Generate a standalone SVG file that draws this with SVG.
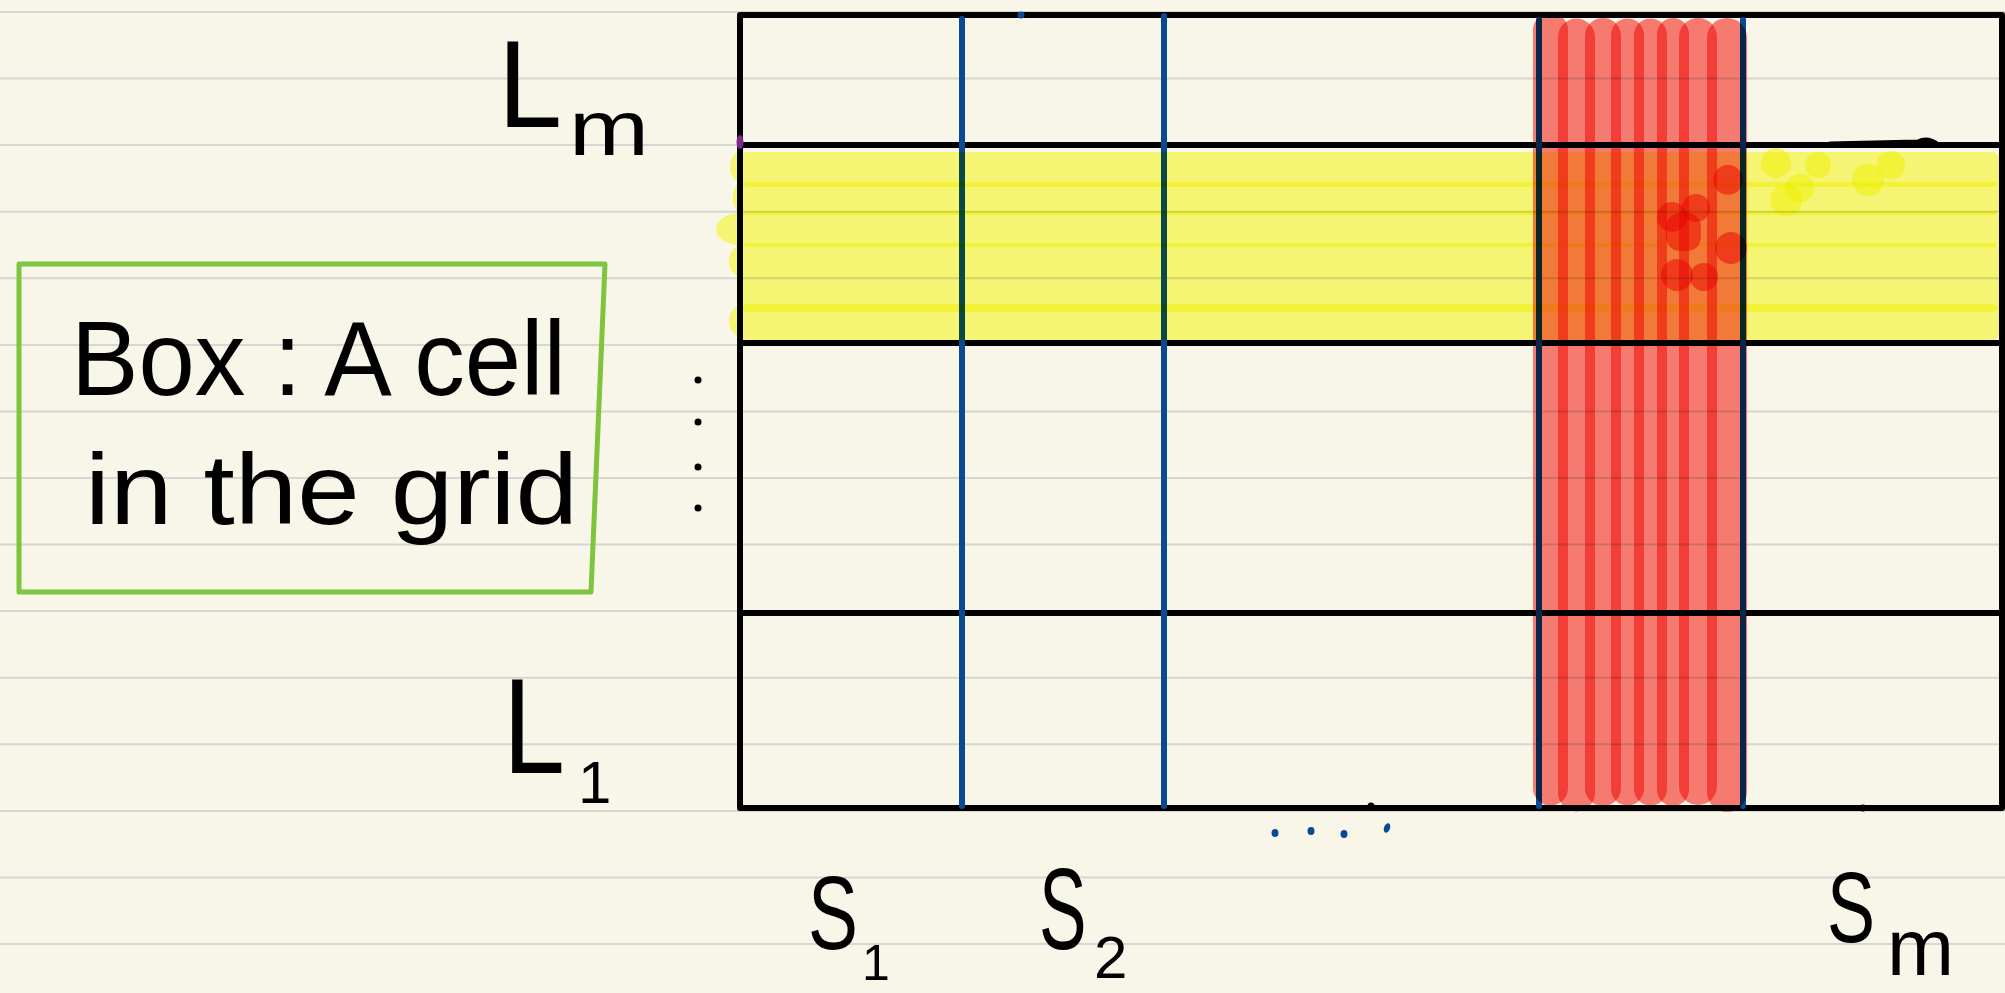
<svg xmlns="http://www.w3.org/2000/svg" width="2005" height="993" viewBox="0 0 2005 993">
<style>
.paper{stroke:#d6d6d2;stroke-width:2}
.blk{stroke:#000;stroke-width:6;fill:none;stroke-linecap:round}
.blu{stroke:#0b4993;stroke-width:6;fill:none;stroke-linecap:round}
.hr{stroke:#fc7f7c;fill:none;stroke-linecap:round;mix-blend-mode:multiply}
.hrf{fill:#fc7f7c;mix-blend-mode:multiply}
.hy{fill:#fcfd7e;mix-blend-mode:multiply}
.t{font-family:"Liberation Sans","DejaVu Sans",sans-serif;fill:#000}
</style>
<rect width="2005" height="993" fill="#f8f6e9"/>
<g id="paper-lines">
<line class="paper" x1="0" y1="12" x2="2005" y2="12"/>
<line class="paper" x1="0" y1="78.6" x2="2005" y2="78.6"/>
<line class="paper" x1="0" y1="145.1" x2="2005" y2="145.1"/>
<line class="paper" x1="0" y1="211.7" x2="2005" y2="211.7"/>
<line class="paper" x1="0" y1="278.3" x2="2005" y2="278.3"/>
<line class="paper" x1="0" y1="344.9" x2="2005" y2="344.9"/>
<line class="paper" x1="0" y1="411.4" x2="2005" y2="411.4"/>
<line class="paper" x1="0" y1="478" x2="2005" y2="478"/>
<line class="paper" x1="0" y1="544.6" x2="2005" y2="544.6"/>
<line class="paper" x1="0" y1="611.1" x2="2005" y2="611.1"/>
<line class="paper" x1="0" y1="677.7" x2="2005" y2="677.7"/>
<line class="paper" x1="0" y1="744.3" x2="2005" y2="744.3"/>
<line class="paper" x1="0" y1="810.9" x2="2005" y2="810.9"/>
<line class="paper" x1="0" y1="877.4" x2="2005" y2="877.4"/>
<line class="paper" x1="0" y1="944" x2="2005" y2="944"/>
</g>
<g id="grid">
<path class="blk" d="M740,15 H2002 M740,15 V808 M740,808 H2002 M2002,15 V808"/>
<path class="blk" d="M740,145 H2002 M740,343 H2002 M740,613 H2002"/>
<path d="M1830,144 L1918,142 Q1928,137 1938,145" stroke="#000" stroke-width="5" fill="none" stroke-linecap="round"/>
<circle cx="1371" cy="806" r="3.5" fill="#000"/>
<circle cx="1863" cy="808" r="3.5" fill="#000"/>
<ellipse cx="740" cy="142" rx="3.5" ry="7" fill="#7b2a8a"/>
</g>
<g id="columns">
<line class="blu" x1="962" y1="19" x2="962" y2="806"/>
<line class="blu" x1="1164" y1="16" x2="1164" y2="806"/>
<line class="blu" x1="1539" y1="20" x2="1539" y2="806"/>
<line class="blu" x1="1743" y1="20" x2="1743" y2="806"/>
<circle cx="1021" cy="15" r="3.5" fill="#0b4993"/>
</g>
<g id="highlight-row">
<rect class="hy" x="740" y="152" width="1260" height="35" rx="8"/>
<rect class="hy" x="740" y="182" width="1260" height="33" rx="8"/>
<rect class="hy" x="740" y="211" width="1260" height="36" rx="8"/>
<rect class="hy" x="740" y="243" width="1260" height="69" rx="8"/>
<rect class="hy" x="740" y="304" width="1260" height="36" rx="8"/>
<path class="hy" d="M740,152 A10,15 0 0 0 740,182 Z"/>
<path class="hy" d="M740,183 A10,15 0 0 0 740,212 Z"/>
<path class="hy" d="M740,213 A24,16 0 0 0 740,245 Z"/>
<path class="hy" d="M740,246 A11,15 0 0 0 740,276 Z"/>
<path class="hy" d="M740,306 A11,15 0 0 0 740,336 Z"/>
<circle class="hy" cx="1776" cy="163" r="15"/>
<circle class="hy" cx="1786" cy="200" r="16"/>
<circle class="hy" cx="1800" cy="188" r="14"/>
<circle class="hy" cx="1818" cy="165" r="13"/>
<circle class="hy" cx="1868" cy="180" r="16"/>
<circle class="hy" cx="1891" cy="165" r="14"/>
</g>
<g id="highlight-column">
<line class="hr" x1="1550.5" y1="30" x2="1550.5" y2="788" stroke-width="35"/>
<line class="hr" x1="1576.5" y1="37" x2="1576.5" y2="793" stroke-width="37"/>
<line class="hr" x1="1603" y1="36" x2="1603" y2="788" stroke-width="36"/>
<line class="hr" x1="1627.5" y1="35" x2="1627.5" y2="789" stroke-width="33"/>
<line class="hr" x1="1650.5" y1="35" x2="1650.5" y2="789" stroke-width="33"/>
<line class="hr" x1="1673" y1="34" x2="1673" y2="790" stroke-width="32"/>
<line class="hr" x1="1698" y1="37" x2="1698" y2="786" stroke-width="38"/>
<line class="hr" x1="1727" y1="38" x2="1727" y2="792" stroke-width="40"/>
<circle class="hrf" cx="1728" cy="180" r="15"/>
<circle class="hrf" cx="1672" cy="217" r="15"/>
<circle class="hrf" cx="1696" cy="208" r="14"/>
<circle class="hrf" cx="1731" cy="248" r="16"/>
<circle class="hrf" cx="1677" cy="275" r="16"/>
<circle class="hrf" cx="1704" cy="277" r="14"/>
<rect class="hrf" x="1666" y="213" width="35" height="38" rx="14"/>
</g>
<g id="box-note">
<path d="M19,264 L605,264 L591,592 L19,592 Z" stroke="#7ec43c" stroke-width="5" fill="none" stroke-linejoin="round"/>
<text class="t" x="71" y="395" font-size="105" textLength="495" lengthAdjust="spacingAndGlyphs">Box : A cell</text>
<text class="t" x="85" y="524" font-size="100" textLength="493" lengthAdjust="spacingAndGlyphs">in the grid</text>
</g>
<g id="vdots">
<circle cx="698" cy="380" r="3.5" fill="#000"/>
<circle cx="698" cy="422" r="3.5" fill="#000"/>
<circle cx="698" cy="467" r="3.5" fill="#000"/>
<circle cx="698" cy="508" r="3.5" fill="#000"/>
</g>
<g id="hdots">
<ellipse cx="1275" cy="833" rx="3.5" ry="4" fill="#0b4993"/>
<ellipse cx="1311" cy="831" rx="3.5" ry="4" fill="#0b4993"/>
<ellipse cx="1344" cy="834" rx="3.5" ry="4" fill="#0b4993"/>
<ellipse cx="1387" cy="828" rx="3" ry="5" fill="#0b4993" transform="rotate(20 1387 828)"/>
</g>
<g id="label-Lm">
<text class="t" x="498" y="127" font-size="125" textLength="64" lengthAdjust="spacingAndGlyphs">L</text>
<text class="t" x="569" y="155" font-size="78" textLength="80" lengthAdjust="spacingAndGlyphs">m</text>
</g>
<g id="label-L1">
<text class="t" x="503" y="773" font-size="135" textLength="62" lengthAdjust="spacingAndGlyphs">L</text>
<text class="t" x="578" y="803" font-size="60">1</text>
</g>
<g id="label-S1">
<text class="t" transform="translate(808,949) scale(0.72,1)" font-size="104">S</text>
<text class="t" x="862" y="980" font-size="50">1</text>
</g>
<g id="label-S2">
<text class="t" transform="translate(1039,949) scale(0.62,1)" font-size="115">S</text>
<text class="t" x="1094" y="978" font-size="60">2</text>
</g>
<g id="label-Sm">
<text class="t" transform="translate(1827,942) scale(0.72,1)" font-size="100">S</text>
<text class="t" x="1887" y="975" font-size="80" textLength="67" lengthAdjust="spacingAndGlyphs">m</text>
</g>
</svg>
